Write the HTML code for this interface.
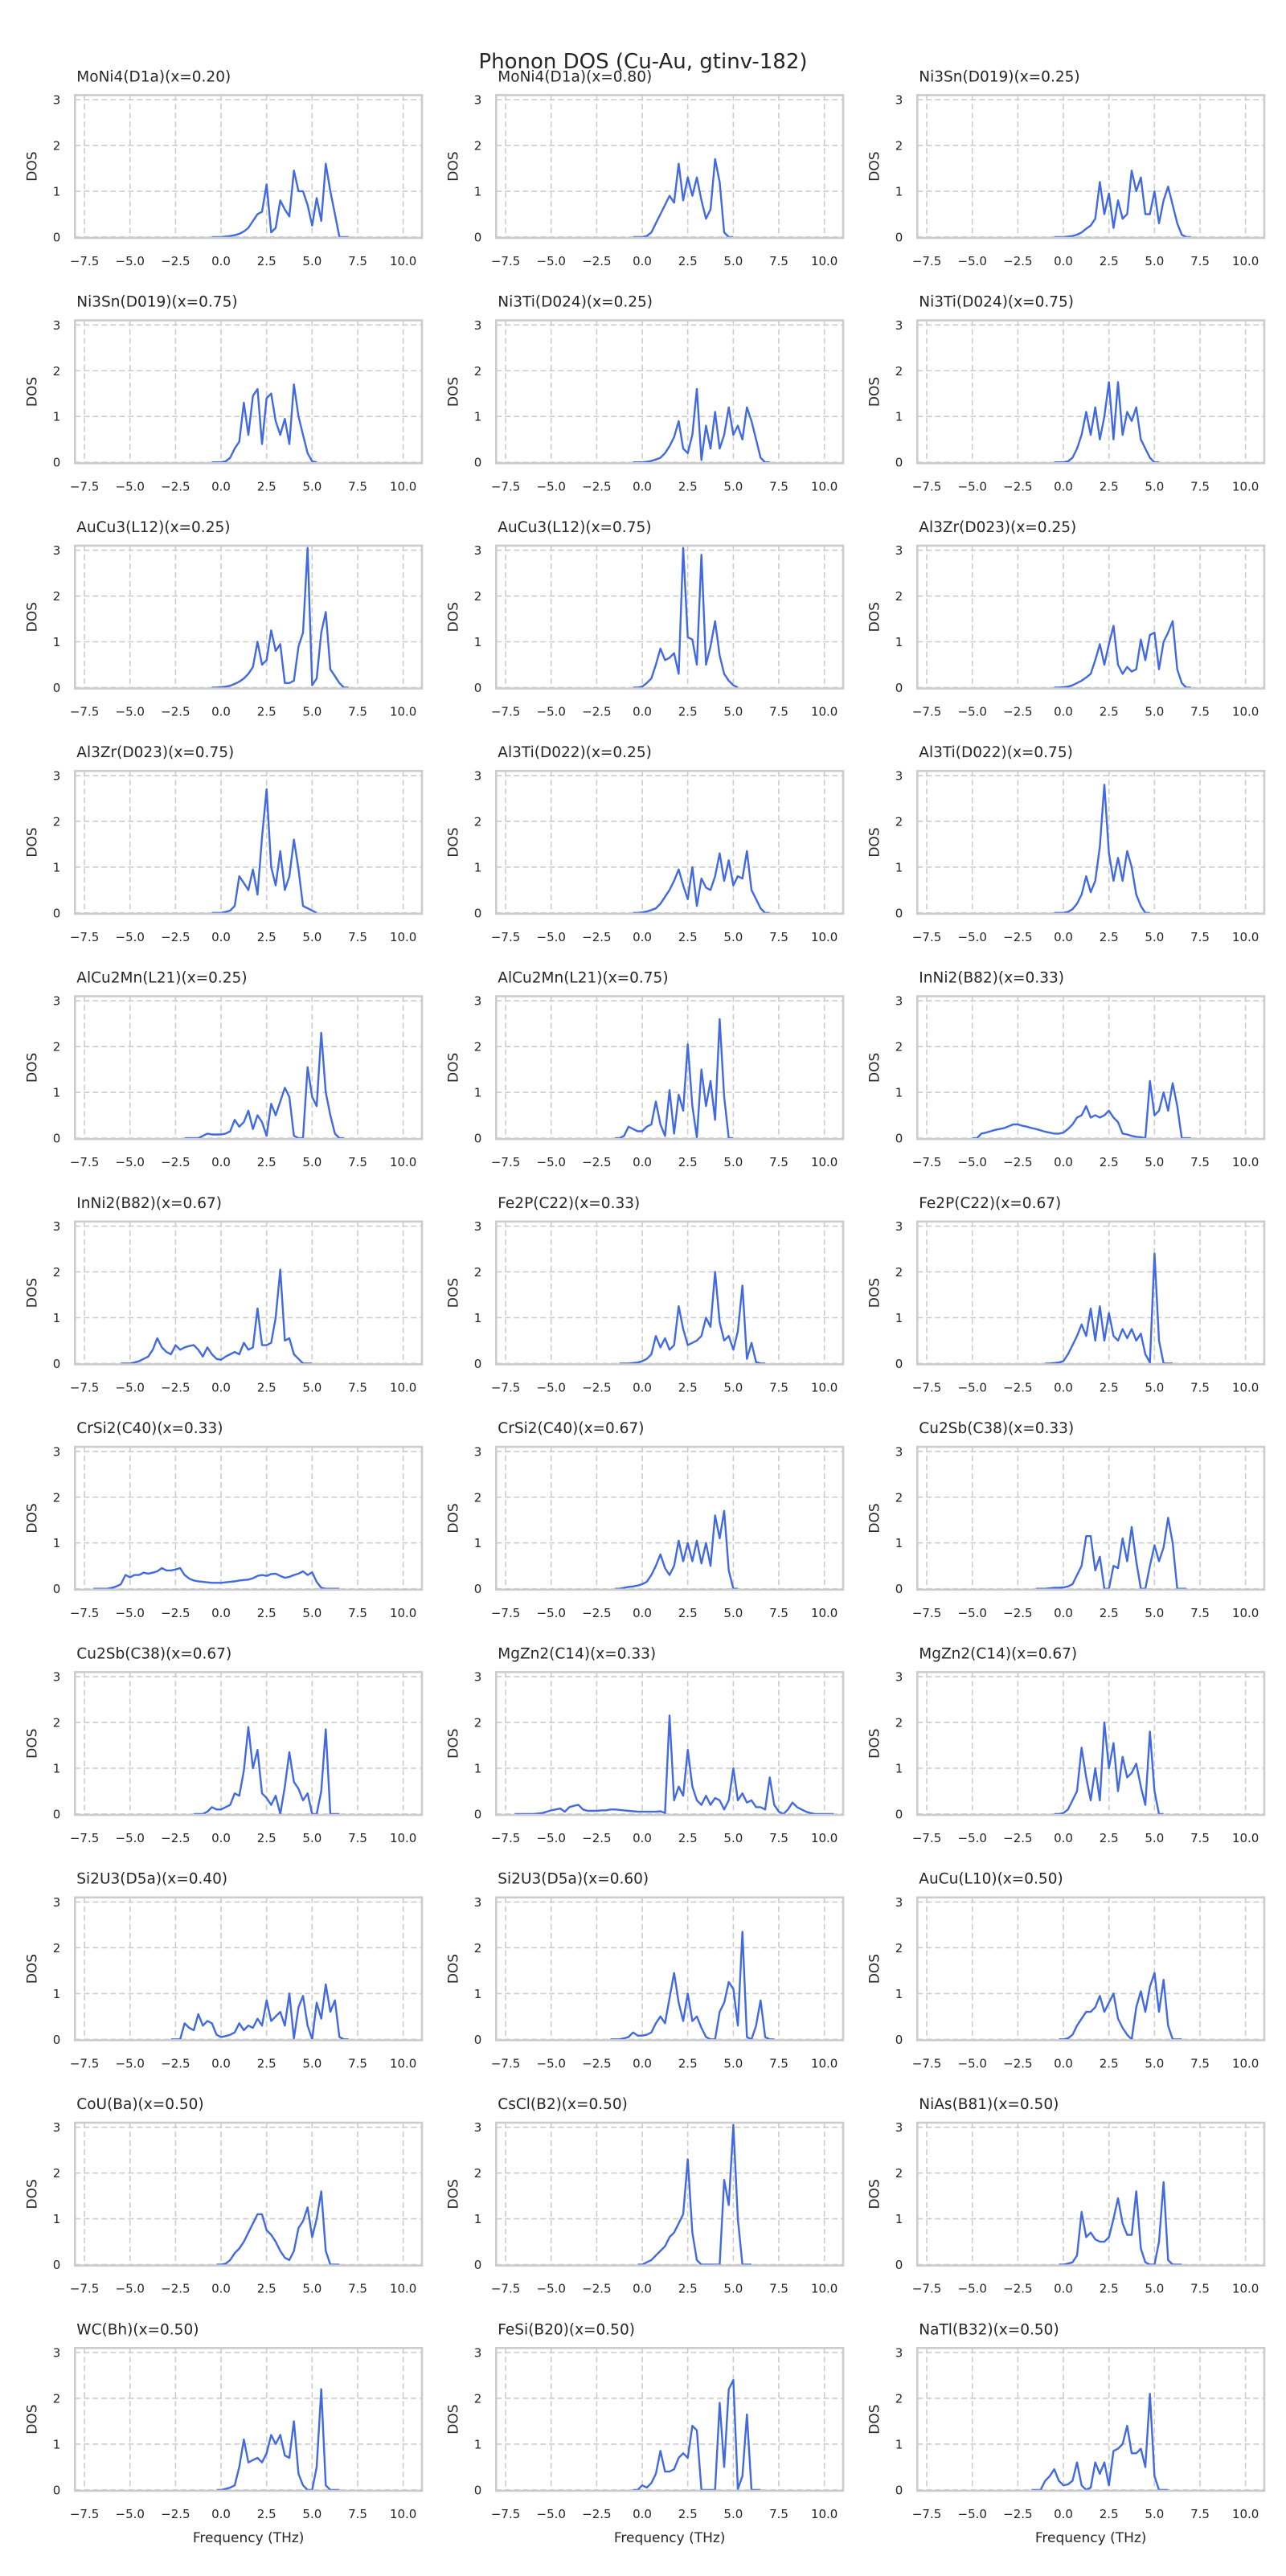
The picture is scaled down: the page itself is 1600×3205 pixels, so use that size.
<!DOCTYPE html>
<html><head><meta charset="utf-8">
<style>
html,body{margin:0;padding:0;background:#fff;}
svg text{font-family:"DejaVu Sans","Liberation Sans",sans-serif;fill:#262626;}
</style></head>
<body>
<svg id="chart" xmlns="http://www.w3.org/2000/svg" width="1600" height="3200" viewBox="0 0 1600 3200">
<rect x="0" y="0" width="1600" height="3200" fill="#fff"/>
<text x="800" y="85" font-size="26" text-anchor="middle">Phonon DOS (Cu-Au, gtinv-182)</text>
</svg>
<script>
const titles = ["MoNi4(D1a)(x=0.20)","MoNi4(D1a)(x=0.80)","Ni3Sn(D019)(x=0.25)","Ni3Sn(D019)(x=0.75)","Ni3Ti(D024)(x=0.25)","Ni3Ti(D024)(x=0.75)","AuCu3(L12)(x=0.25)","AuCu3(L12)(x=0.75)","Al3Zr(D023)(x=0.25)","Al3Zr(D023)(x=0.75)","Al3Ti(D022)(x=0.25)","Al3Ti(D022)(x=0.75)","AlCu2Mn(L21)(x=0.25)","AlCu2Mn(L21)(x=0.75)","InNi2(B82)(x=0.33)","InNi2(B82)(x=0.67)","Fe2P(C22)(x=0.33)","Fe2P(C22)(x=0.67)","CrSi2(C40)(x=0.33)","CrSi2(C40)(x=0.67)","Cu2Sb(C38)(x=0.33)","Cu2Sb(C38)(x=0.67)","MgZn2(C14)(x=0.33)","MgZn2(C14)(x=0.67)","Si2U3(D5a)(x=0.40)","Si2U3(D5a)(x=0.60)","AuCu(L10)(x=0.50)","CoU(Ba)(x=0.50)","CsCl(B2)(x=0.50)","NiAs(B81)(x=0.50)","WC(Bh)(x=0.50)","FeSi(B20)(x=0.50)","NaTl(B32)(x=0.50)"];
const freqStart = [-0.5,-0.5,-0.5,-0.5,-0.5,-0.5,-0.5,-0.5,-0.5,-0.5,-0.5,-0.5,-2,-1.5,-5,-5.5,-1.25,-1,-7,-1.5,-1.5,-1.5,-7,-0.5,-2.75,-1.75,-0.25,-0.25,-0.25,-0.25,-0.25,-0.5,-1.75];
const freqStep = 0.25;
const dos = [
[0,0,0,0.01,0.02,0.04,0.07,0.12,0.2,0.35,0.5,0.55,1.15,0.1,0.2,0.8,0.6,0.45,1.45,1.0,1.0,0.7,0.25,0.85,0.35,1.6,1.0,0.5,0,0,0],
[0,0,0,0.02,0.1,0.3,0.5,0.7,0.9,0.75,1.6,0.8,1.3,0.9,1.3,0.8,0.4,0.6,1.7,1.2,0.1,0,0],
[0,0,0,0.01,0.02,0.05,0.1,0.18,0.25,0.4,1.2,0.5,0.95,0.2,0.8,0.4,0.5,1.45,1.0,1.3,0.5,0.5,1.0,0.3,0.8,1.1,0.7,0.3,0.05,0,0],
[0,0,0,0.02,0.1,0.3,0.45,1.3,0.6,1.45,1.6,0.4,1.4,1.5,0.9,0.6,0.95,0.4,1.7,1.0,0.6,0.2,0.02,0],
[0,0,0,0.01,0.03,0.06,0.1,0.2,0.35,0.55,0.9,0.3,0.2,0.6,1.6,0.05,0.8,0.3,1.1,0.3,0.6,1.2,0.6,0.8,0.5,1.2,0.9,0.5,0.1,0,0],
[0,0,0,0.02,0.1,0.3,0.6,1.1,0.6,1.2,0.5,1.0,1.75,0.5,1.75,0.6,1.1,0.9,1.2,0.5,0.3,0.1,0,0],
[0,0,0.01,0.02,0.04,0.08,0.13,0.2,0.3,0.45,1.0,0.5,0.6,1.25,0.8,0.95,0.1,0.1,0.15,0.9,1.2,3.05,0.05,0.2,1.2,1.65,0.4,0.25,0.1,0,0],
[0,0,0.02,0.1,0.2,0.5,0.85,0.6,0.65,0.75,0.3,3.05,1.1,1.05,0.5,2.9,0.5,0.9,1.45,0.7,0.3,0.15,0.05,0],
[0,0,0.01,0.02,0.05,0.1,0.15,0.22,0.3,0.6,0.95,0.5,0.95,1.35,0.5,0.3,0.45,0.35,0.4,1.05,0.6,1.15,1.2,0.4,1.0,1.2,1.45,0.4,0.1,0,0],
[0,0,0,0.02,0.05,0.15,0.8,0.65,0.5,0.95,0.4,1.65,2.7,1.0,0.6,1.35,0.5,0.8,1.6,0.95,0.15,0.1,0.05,0],
[0,0,0.01,0.03,0.06,0.1,0.2,0.35,0.5,0.7,0.95,0.6,0.3,1.0,0.15,0.75,0.55,0.5,0.8,1.3,0.7,1.15,0.6,0.8,0.75,1.35,0.5,0.3,0.1,0,0],
[0,0,0,0.02,0.08,0.2,0.4,0.8,0.45,0.7,1.45,2.8,1.3,0.7,1.2,0.7,1.35,1.0,0.4,0.15,0,0],
[0,0,0,0,0.05,0.1,0.08,0.08,0.08,0.1,0.15,0.4,0.25,0.35,0.6,0.2,0.5,0.35,0.05,0.75,0.5,0.8,1.1,0.9,0.05,0,0,1.55,0.9,0.7,2.3,1.0,0.5,0.1,0,0],
[0,0,0.05,0.25,0.2,0.15,0.15,0.25,0.3,0.8,0.3,0.05,1.05,0.1,0.95,0.6,2.05,0.7,0.02,1.5,0.7,1.25,0.4,2.6,0.9,0,0],
[0,0,0.1,0.12,0.15,0.18,0.2,0.22,0.26,0.3,0.3,0.27,0.25,0.22,0.2,0.17,0.14,0.12,0.1,0.1,0.12,0.2,0.3,0.45,0.5,0.7,0.45,0.5,0.45,0.5,0.6,0.45,0.35,0.1,0.08,0.05,0.03,0.02,0,1.25,0.5,0.6,1.0,0.6,1.2,0.7,0,0,0],
[0,0,0,0.02,0.05,0.1,0.15,0.3,0.55,0.35,0.25,0.2,0.4,0.3,0.35,0.38,0.4,0.3,0.15,0.35,0.2,0.1,0.08,0.15,0.2,0.25,0.2,0.45,0.3,0.35,1.2,0.4,0.4,0.45,1.0,2.05,0.5,0.55,0.2,0.1,0,0,0],
[0,0,0,0.01,0.02,0.05,0.1,0.2,0.6,0.35,0.55,0.3,0.4,1.25,0.75,0.4,0.45,0.5,0.6,1.0,0.8,2.0,0.9,0.5,0.6,0.3,0.7,1.7,0.1,0.45,0.03,0,0],
[0,0,0.01,0.02,0.05,0.2,0.4,0.6,0.85,0.6,1.2,0.5,1.25,0.5,1.1,0.6,0.5,0.75,0.55,0.75,0.5,0.65,0.2,0.02,2.4,0.5,0,0,0],
[0,0,0,0,0.02,0.05,0.1,0.3,0.25,0.3,0.3,0.35,0.33,0.35,0.38,0.45,0.4,0.4,0.42,0.45,0.3,0.22,0.18,0.16,0.15,0.14,0.13,0.13,0.13,0.14,0.15,0.16,0.18,0.19,0.2,0.23,0.28,0.3,0.28,0.32,0.33,0.28,0.24,0.26,0.3,0.33,0.38,0.3,0.36,0.15,0.02,0,0,0,0],
[0,0,0.02,0.04,0.05,0.07,0.1,0.15,0.3,0.5,0.75,0.45,0.3,0.5,1.05,0.6,1.0,0.6,1.05,0.55,1.0,0.5,1.6,1.1,1.7,0.4,0,0],
[0,0,0,0.01,0.02,0.02,0.03,0.05,0.1,0.3,0.5,1.15,1.15,0.4,0.7,0,0,0.5,0.45,1.1,0.6,1.35,0.6,0,0,0.5,0.95,0.6,0.9,1.55,1.0,0,0,0],
[0,0,0,0.05,0.15,0.1,0.1,0.15,0.2,0.45,0.4,0.95,1.9,1.0,1.4,0.45,0.35,0.2,0.4,0,0.6,1.35,0.7,0.55,0.3,0.45,0,0,0.5,1.85,0,0,0],
[0,0,0,0,0,0.01,0.02,0.05,0.08,0.1,0.12,0.05,0.15,0.18,0.2,0.1,0.07,0.07,0.07,0.08,0.08,0.1,0.1,0.09,0.08,0.07,0.06,0.05,0.05,0.05,0.05,0.05,0.06,0.02,2.15,0.3,0.6,0.4,1.4,0.6,0.3,0.2,0.4,0.2,0.35,0.3,0.1,0.3,1.0,0.3,0.45,0.25,0.3,0.15,0.15,0.1,0.8,0.2,0.05,0,0.1,0.25,0.15,0.1,0.05,0.02,0,0,0,0,0],
[0,0,0.02,0.1,0.3,0.5,1.45,0.8,0.3,1.0,0.3,2.0,1.0,1.55,0.5,1.25,0.8,0.9,1.1,0.6,0.2,1.8,0.5,0,0],
[0,0,0,0.35,0.25,0.2,0.55,0.3,0.4,0.35,0.1,0.05,0.07,0.1,0.15,0.35,0.2,0.3,0.25,0.45,0.3,0.85,0.4,0.5,0.6,0.3,1.0,0.02,0.7,0.95,0.3,0,0.8,0.45,1.2,0.6,0.85,0.05,0,0],
[0,0,0,0.02,0.05,0.15,0.08,0.08,0.1,0.15,0.35,0.5,0.35,0.9,1.45,0.8,0.4,1.0,0.4,0.5,0.25,0.05,0,0,0.6,0.8,1.25,1.1,0.3,2.35,0.05,0,0.3,0.85,0.05,0,0],
[0,0,0.02,0.1,0.3,0.45,0.6,0.6,0.7,0.95,0.6,0.8,1.0,0.45,0.25,0.1,0,0.7,1.05,0.6,1.15,1.45,0.6,1.3,0.3,0,0,0],
[0,0,0.02,0.1,0.25,0.35,0.5,0.7,0.9,1.1,1.1,0.75,0.65,0.5,0.3,0.15,0.1,0.3,0.8,0.95,1.25,0.6,1.0,1.6,0.3,0,0,0],
[0,0,0.05,0.1,0.2,0.3,0.4,0.6,0.7,0.9,1.1,2.3,0.7,0.1,0,0,0,0,0,1.85,1.3,3.05,1.0,0,0,0],
[0,0,0.02,0.05,0.2,1.15,0.6,0.7,0.55,0.5,0.5,0.6,1.0,1.45,0.9,0.65,0.65,1.6,0.35,0.05,0,0,0.5,1.8,0.1,0,0,0],
[0,0,0.02,0.05,0.1,0.5,1.1,0.6,0.65,0.7,0.6,0.8,1.2,1.0,1.2,0.75,0.7,1.5,0.35,0.1,0,0,0.5,2.2,0.1,0,0,0],
[0,0,0.1,0.05,0.15,0.35,0.85,0.4,0.4,0.45,0.7,0.8,0.7,1.4,1.3,0,0,0,0,1.9,0.5,2.2,2.4,0.02,0.3,1.65,0,0,0],
[0,0,0,0.2,0.3,0.45,0.2,0.1,0.12,0.2,0.6,0.1,0,0.05,0.6,0.35,0.6,0.1,0.85,0.9,1.0,1.4,0.8,0.8,0.9,0.5,2.1,0.3,0,0,0]
];
const xTicks = [-7.5,-5.0,-2.5,0.0,2.5,5.0,7.5,10.0];
const yTicks = [0,1,2,3];
const X_MIN = -8.02, X_MAX = 11.03, Y_MIN = -0.02, Y_MAX = 3.1;
const colLeft = [93.3, 617.3, 1141.3], boxW = 431.7, boxH = 177.7, rowTop0 = 118.3, rowPitch = 280.3;
const NS = "http://www.w3.org/2000/svg";
const svg = document.getElementById('chart');
function mk(tag, attrs, parent){const e=document.createElementNS(NS,tag);for(const k in attrs)e.setAttribute(k,attrs[k]);(parent||svg).appendChild(e);return e;}
const defs = mk('defs',{});
const nRows = Math.ceil(dos.length/3);
dos.forEach((vals, i) => {
  const r = Math.floor(i/3), c = i%3;
  const L = colLeft[c], T = rowTop0 + r*rowPitch;
  const xs = v => L + (v - X_MIN)/(X_MAX - X_MIN)*boxW;
  const ys = v => T + boxH - (v - Y_MIN)/(Y_MAX - Y_MIN)*boxH;
  const g = mk('g',{});
  
  
  const cp = mk('clipPath',{id:'cp'+i},defs);
  mk('rect',{x:L,y:T,width:boxW,height:boxH},cp);
  xTicks.forEach(t => {
    const ln = mk('line',{x1:xs(t),x2:xs(t),y1:T,y2:T+boxH,stroke:'#cccccc','stroke-width':1.6,'stroke-dasharray':'7,4'},g);
    
    
    const tx = mk('text',{x:xs(t),y:T+boxH+34,'font-size':15,'text-anchor':'middle'},g);
    tx.textContent = t.toFixed(1).replace('-','\u2212');
    
    
  });
  yTicks.forEach(t => {
    const ln = mk('line',{x1:L,x2:L+boxW,y1:ys(t),y2:ys(t),stroke:'#cccccc','stroke-width':1.6,'stroke-dasharray':'7,4'},g);
    
    
    const tx = mk('text',{x:L-18,y:ys(t)+5.5,'font-size':15,'text-anchor':'end'},g);
    tx.textContent = String(t);
    
    
  });
  const pts = vals.map((v,k) => xs(freqStart[i] + k*freqStep).toFixed(1) + ',' + ys(v).toFixed(1)).join(' ');
  const line = mk('polyline',{points:pts,fill:'none',stroke:'#4169e1','stroke-width':2.4,'stroke-linejoin':'round','clip-path':'url(#cp'+i+')'},g);
  
  
  const box = mk('rect',{x:L,y:T,width:boxW,height:boxH,fill:'none',stroke:'#cccccc','stroke-width':2.6},g);
  
  
  const ttl = mk('text',{x:L+2,y:T-17,'font-size':18.5},g);
  ttl.textContent = titles[i];
  
  
  const yl = mk('text',{x:0,y:0,'font-size':17,'text-anchor':'middle',transform:'translate('+(L-48)+','+(T+boxH/2)+') rotate(-90)'},g);
  yl.textContent = 'DOS';
  
  
  if (r === nRows-1) {
    const xl = mk('text',{x:L+boxW/2,y:T+boxH+64,'font-size':17,'text-anchor':'middle'},g);
    xl.textContent = 'Frequency (THz)';
    
    
  }
});
</script>
</body></html>
